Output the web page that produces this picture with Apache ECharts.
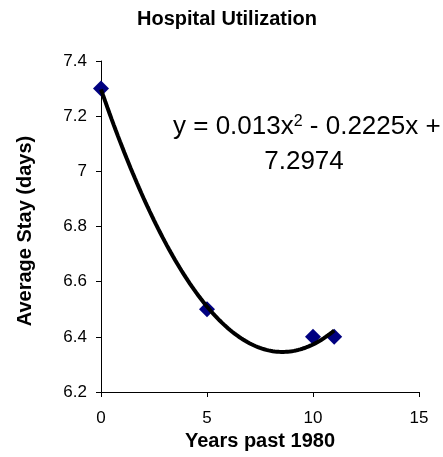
<!DOCTYPE html>
<html><head><meta charset="utf-8">
<script src="https://cdn.jsdelivr.net/npm/echarts@6/dist/echarts.min.js"></script>
<style>html,body{margin:0;padding:0;background:#fff}#c{width:443px;height:457px}</style>
</head><body><div id="c"></div>
<script>
const titleText = 'Hospital Utilization';
const xName = 'Years past 1980';
const yName = 'Average Stay (days)';
const years = [0, 5, 10, 11];
const avgStay = [7.3, 6.5, 6.4, 6.4];
const trendCoef = [0.013, -0.2225, 7.2974]; // a, b, c as shown on chart
const trendRange = [0, 11];

const chart = echarts.init(document.getElementById('c'));
const trend = [];
for (let i = 0; i <= 110; i++) {
  const x = trendRange[0] + (trendRange[1] - trendRange[0]) * i / 110;
  trend.push([x, trendCoef[0]*x*x + trendCoef[1]*x + trendCoef[2]]);
}
const font = 'Liberation Sans, Arial, sans-serif';
chart.setOption({
  animation: false,
  grid: { left: 101, right: 24, top: 61, bottom: 65 },
  xAxis: {
    type: 'value', min: 0, max: 15, interval: 5,
    name: xName, nameLocation: 'middle', nameGap: 37,
    nameTextStyle: { fontFamily: font, fontSize: 20, fontWeight: 'bold', color: '#000' },
    axisLine: { lineStyle: { color: '#000', width: 1 } },
    axisTick: { show: true, length: 5, lineStyle: { color: '#000' } },
    axisLabel: { fontFamily: font, fontSize: 17, color: '#000', margin: 18 },
    splitLine: { show: false }
  },
  yAxis: {
    type: 'value', min: 6.2, max: 7.4, interval: 0.2,
    name: yName, nameLocation: 'middle', nameGap: 66, nameRotate: 90,
    nameTextStyle: { fontFamily: font, fontSize: 20, fontWeight: 'bold', color: '#000', padding: [0, 9, 0, 0] },
    axisLine: { show: true, lineStyle: { color: '#000', width: 1 } },
    axisTick: { show: true, length: 5, lineStyle: { color: '#000' } },
    axisLabel: { fontFamily: font, fontSize: 17, color: '#000', margin: 14,
      formatter: v => String(Math.round(v * 10) / 10) },
    splitLine: { show: false }
  },
  series: [
    { type: 'line', data: trend, showSymbol: false, symbol: 'none', smooth: false,
      lineStyle: { color: '#000', width: 4 }, z: 3 },
    { type: 'scatter', data: years.map((x, i) => [x, avgStay[i]]), symbol: 'diamond', symbolSize: 16,
      itemStyle: { color: '#000080', opacity: 1 }, z: 2 }
  ],
  graphic: [
    { type: 'text', x: 227, y: 9, style: { text: titleText, align: 'center', verticalAlign: 'top',
        fontFamily: font, fontSize: 20, fontWeight: 'bold', fill: '#000' } },
    { type: 'text', left: 173, top: 114, style: {
        text: '{a|y = 0.013x}{s|2}{a| - 0.2225x +}',
        rich: { a: { fontFamily: font, fontSize: 26, lineHeight: 26, color: '#000' },
                s: { fontFamily: font, fontSize: 16, lineHeight: 16, color: '#000', verticalAlign: 'top' } } } },
    { type: 'text', x: 304, y: 149, style: { text: '7.2974', align: 'center', verticalAlign: 'top',
        fontFamily: font, fontSize: 26, fill: '#000' } }
  ]
});
</script></body></html>
